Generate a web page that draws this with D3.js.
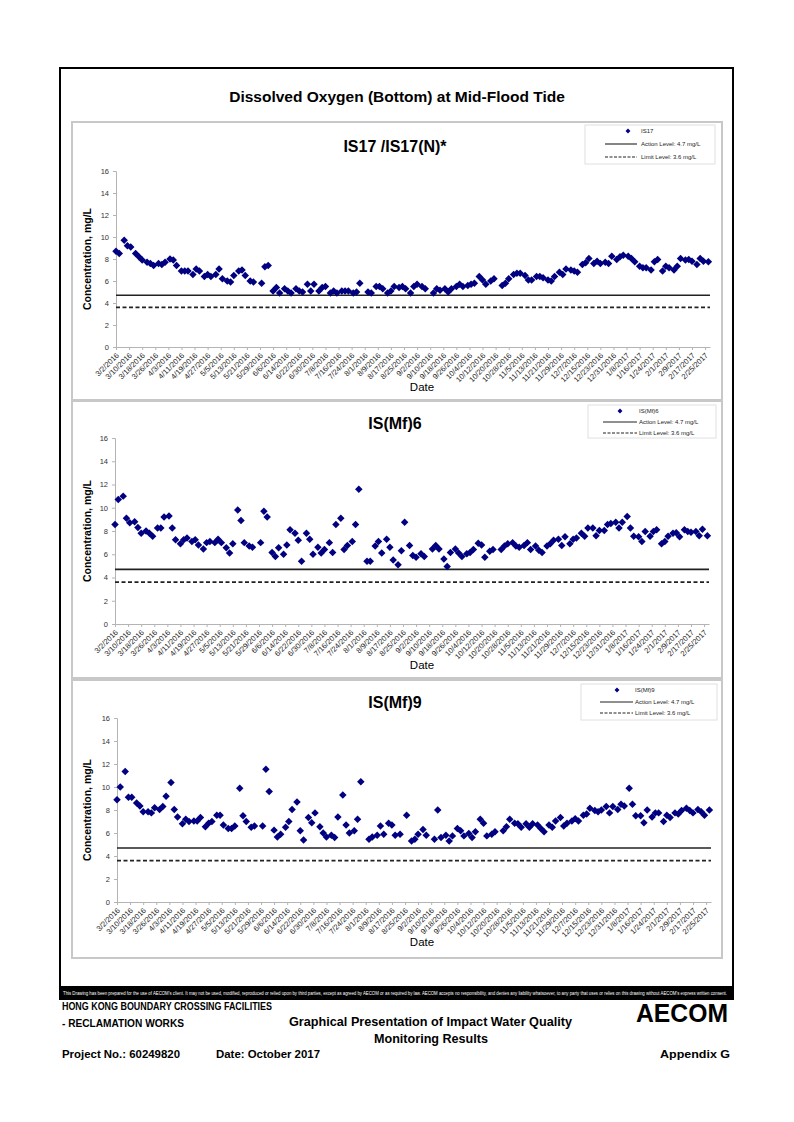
<!DOCTYPE html>
<html><head><meta charset="utf-8">
<script src="https://cdn.jsdelivr.net/npm/d3@7"></script>
<style>
body{margin:0;background:#fff;}
svg{display:block;font-family:"Liberation Sans",Arial,Helvetica,sans-serif;}
</style>
</head><body>
<svg id="chart" width="794" height="1122"></svg>
<script>
// ---------------- DATA ----------------
const sampleDates = [
"2016-03-02","2016-03-04","2016-03-07","2016-03-09","2016-03-11","2016-03-14","2016-03-16","2016-03-18","2016-03-21","2016-03-23","2016-03-25","2016-03-28","2016-03-30",
"2016-04-01","2016-04-04","2016-04-06","2016-04-08","2016-04-11","2016-04-13","2016-04-15","2016-04-18","2016-04-20","2016-04-22","2016-04-25","2016-04-27","2016-04-29",
"2016-05-02","2016-05-04","2016-05-06","2016-05-09","2016-05-11","2016-05-13","2016-05-16","2016-05-18","2016-05-20","2016-05-23","2016-05-25","2016-05-27","2016-05-30",
"2016-06-01","2016-06-03","2016-06-06","2016-06-08","2016-06-10","2016-06-13","2016-06-15","2016-06-17","2016-06-20","2016-06-22","2016-06-24","2016-06-27","2016-06-29",
"2016-07-01","2016-07-04","2016-07-06","2016-07-08","2016-07-11","2016-07-13","2016-07-15","2016-07-18","2016-07-20","2016-07-22","2016-07-25","2016-07-27","2016-07-29",
"2016-08-01","2016-08-03","2016-08-05","2016-08-08","2016-08-10","2016-08-12","2016-08-15","2016-08-17","2016-08-19","2016-08-22","2016-08-24","2016-08-26","2016-08-29","2016-08-31",
"2016-09-02","2016-09-05","2016-09-07","2016-09-09","2016-09-12","2016-09-14","2016-09-16","2016-09-19","2016-09-21","2016-09-23","2016-09-26","2016-09-28","2016-09-30",
"2016-10-03","2016-10-05","2016-10-07","2016-10-10","2016-10-12","2016-10-14","2016-10-17","2016-10-19","2016-10-21","2016-10-24","2016-10-26","2016-10-28","2016-10-31",
"2016-11-02","2016-11-04","2016-11-07","2016-11-09","2016-11-11","2016-11-14","2016-11-16","2016-11-18","2016-11-21","2016-11-23","2016-11-25","2016-11-28","2016-11-30",
"2016-12-02","2016-12-05","2016-12-07","2016-12-09","2016-12-12","2016-12-14","2016-12-16","2016-12-19","2016-12-21","2016-12-23","2016-12-26","2016-12-28","2016-12-30",
"2017-01-02","2017-01-04","2017-01-06","2017-01-09","2017-01-11","2017-01-13","2017-01-16","2017-01-18","2017-01-20","2017-01-23","2017-01-25","2017-01-27","2017-01-30",
"2017-02-01","2017-02-03","2017-02-06","2017-02-08","2017-02-10","2017-02-13","2017-02-15","2017-02-17","2017-02-20","2017-02-22","2017-02-24","2017-02-27"
];

const is17Values = [
8.7,8.5,9.7,9.2,9.1,8.5,8.2,7.9,7.7,7.6,7.4,7.6,7.5,
7.7,8.0,7.9,7.4,6.9,6.9,6.9,6.6,7.1,6.9,6.4,6.6,6.4,
6.6,7.1,6.2,6.0,5.9,6.5,6.9,7.0,6.5,6.0,5.9,null,5.8,
7.3,7.4,5.1,5.4,4.9,5.3,5.1,4.9,5.3,5.1,5.0,5.7,5.1,
5.7,5.1,5.4,5.5,4.9,5.1,4.9,5.1,5.1,5.1,4.9,5.0,5.8,
null,5.0,4.9,5.5,5.5,5.3,4.9,5.1,5.5,5.4,5.5,5.3,4.9,5.5,
5.7,5.5,5.3,null,4.9,5.3,5.15,5.3,5.0,5.3,5.5,5.7,5.5,
5.6,5.7,5.8,6.4,6.1,5.7,6.0,6.2,null,5.6,5.8,6.2,6.6,
6.7,6.7,6.5,6.1,6.1,6.4,6.4,6.3,6.1,6.0,6.4,6.8,6.6,
7.1,7.0,6.9,6.8,7.5,7.65,8.05,7.6,7.8,7.6,7.7,7.6,8.25,
7.95,8.2,8.35,8.25,8.05,7.75,7.35,7.2,7.2,7.0,7.75,7.95,6.9,
7.35,7.2,7.0,7.35,8.05,7.9,7.95,7.8,7.5,8.05,7.8,7.75
];

const mf6Values = [
8.55,10.7,11.0,9.1,8.7,8.8,8.3,7.8,8.0,7.8,7.55,8.25,8.25,
9.2,9.3,8.25,7.25,6.9,7.25,7.4,7.1,7.25,6.8,6.45,7.0,7.1,
7.0,7.3,7.0,6.55,6.1,6.9,9.8,8.9,7.0,6.7,6.6,null,7.0,
9.7,9.2,6.15,5.8,6.55,6.0,6.8,8.1,7.8,7.2,5.4,7.8,7.3,
6.0,6.6,6.1,6.4,7.0,6.15,8.55,9.1,6.4,6.75,7.1,8.55,11.6,
null,5.4,5.4,6.7,7.1,6.1,7.3,6.6,5.5,5.1,6.3,8.75,6.75,5.9,
5.75,6.05,5.8,null,6.45,6.75,6.45,5.6,4.95,6.15,6.45,6.1,5.8,
6.05,6.15,6.4,6.95,6.8,5.75,6.25,6.4,null,6.4,6.7,6.9,7.0,
6.7,6.6,6.75,7.0,6.4,6.7,6.35,6.15,6.7,6.9,7.2,7.3,6.75,
7.5,6.9,7.3,7.4,7.8,7.55,8.25,8.25,7.6,8.05,8.05,8.55,8.65,
8.75,8.25,8.75,9.25,8.25,7.55,7.5,7.1,7.95,7.55,7.95,8.1,6.9,
7.1,7.55,7.8,7.85,7.5,8.1,7.95,7.9,7.95,7.6,8.15,7.6
];

const mf9Values = [
8.9,10.0,11.35,9.1,9.1,8.6,8.35,7.85,7.85,7.75,8.2,8.05,8.3,
9.2,10.4,8.05,7.4,6.8,7.2,7.0,7.05,7.05,7.35,6.55,6.85,7.0,
7.55,7.55,6.7,6.4,6.4,6.6,9.9,7.5,7.0,6.5,6.6,null,6.6,
11.55,9.6,6.25,5.65,5.9,6.5,7.0,8.05,8.7,6.2,5.4,7.35,6.9,
7.75,6.55,6.0,5.65,5.8,5.6,7.4,9.3,6.7,6.0,6.2,7.2,10.45,
null,5.45,5.65,5.8,6.6,5.9,6.85,6.7,5.8,5.9,null,7.55,5.3,5.45,
5.9,6.3,5.8,null,5.45,8.0,5.6,5.8,5.3,5.75,6.4,6.2,5.75,
5.95,5.6,6.1,7.2,6.85,5.75,5.9,6.1,null,6.2,6.55,7.2,6.85,
6.8,6.5,6.8,6.5,6.8,6.7,6.4,6.1,6.7,6.5,7.05,7.35,6.6,
6.85,7.05,7.25,7.05,7.55,7.65,8.15,7.95,7.85,8.0,8.3,7.75,8.3,
8.05,8.5,8.35,9.9,8.5,7.5,7.5,6.9,8.0,7.4,7.75,7.75,7.0,
7.55,7.35,7.75,7.65,7.95,8.15,7.95,7.75,8.05,7.85,7.55,8.0
];

const seriesNames = ["IS17","IS(Mf)6","IS(Mf)9"];
const panelTitles = ["IS17 /IS17(N)*","IS(Mf)6","IS(Mf)9"];
const yTickValues = [0,2,4,6,8,10,12,14,16];
const actionLevel = 4.7;
const limitLevel = 3.6;
const axisStart = "2016-03-02";
const axisEnd = "2017-02-28";
const lastTick = "2017-02-26";

// ---------------- LAYOUT ----------------
const svg = d3.select("#chart");
const parse = d3.timeParse("%Y-%m-%d");
const fmt = d => `${d.getMonth()+1}/${d.getDate()}/${d.getFullYear()}`;
const navy = "#000080";
const diamond = d3.symbol().type(d3.symbolSquare).size(28);
const legendDiamond = d3.symbol().type(d3.symbolSquare).size(12);

// outer frame
svg.append("rect").attr("x",60).attr("y",68).attr("width",673).attr("height",931)
  .attr("fill","none").attr("stroke","#000").attr("stroke-width",2);

svg.append("text").attr("x",397).attr("y",102).attr("text-anchor","middle")
  .attr("font-weight","bold").attr("font-size",15.5).text("Dissolved Oxygen (Bottom) at Mid-Flood Tide");

const panels = [
  {top:122,bottom:400,x0:116,yTop:171,yBot:347,titleY:152,dateY:391,
   lg:{x:585,y:125,w:130,h:39,dx:628,lx1:605,lx2:637,tx:641,r1:131,r2:144,r3:157}},
  {top:401,bottom:678,x0:115,yTop:438,yBot:624,titleY:429,dateY:669,
   lg:{x:588,y:405,w:128,h:33,dx:620,lx1:603,lx2:637,tx:639,r1:411,r2:422,r3:433}},
  {top:680,bottom:958,x0:117,yTop:718,yBot:902,titleY:708,dateY:946,
   lg:{x:581,y:684,w:136,h:36,dx:617,lx1:600,lx2:633,tx:635,r1:690,r2:702,r3:713}}
];
const allSeries = [is17Values, mf6Values, mf9Values];

panels.forEach((p,i) => {
  const g = svg.append("g");
  g.append("rect").attr("x",72).attr("y",p.top).attr("width",650).attr("height",p.bottom-p.top)
    .attr("fill","#fff").attr("stroke","#c8c8c8").attr("stroke-width",2);

  const x = d3.scaleTime().domain([parse(axisStart), parse(axisEnd)]).range([p.x0, p.x0+594]);
  const y = d3.scaleLinear().domain([0,16]).range([p.yBot, p.yTop]);

  // title
  g.append("text").attr("x",395).attr("y",p.titleY).attr("text-anchor","middle")
    .attr("font-weight","bold").attr("font-size",16).text(panelTitles[i]);

  // y axis
  const ya = g.append("g").attr("transform",`translate(${p.x0},0)`)
    .call(d3.axisLeft(y).tickValues(yTickValues).tickSize(3).tickPadding(4));
  ya.select(".domain").attr("stroke","#b4b4b4");
  ya.selectAll(".tick line").attr("stroke","#b4b4b4");
  ya.selectAll("text").attr("font-size",7.5).attr("fill","#333").attr("font-family","Liberation Sans, Arial, sans-serif");

  // x axis
  const ticks = d3.timeDay.range(parse(axisStart), parse(lastTick), 8);
  const xa = g.append("g").attr("transform",`translate(0,${p.yBot})`)
    .call(d3.axisBottom(x).tickValues(ticks).tickFormat(fmt).tickSize(3).tickSizeOuter(0));
  xa.select(".domain").attr("stroke","#b4b4b4");
  xa.selectAll(".tick line").attr("stroke","#b4b4b4");
  xa.selectAll("text").attr("font-size",7.6).attr("fill","#222")
    .attr("font-family","Liberation Sans, Arial, sans-serif")
    .attr("text-anchor","end").attr("y",0).attr("dy","0.35em")
    .attr("transform","translate(1,7) rotate(-45)");

  // axis titles
  g.append("text").attr("transform",`translate(91,${(p.yTop+p.yBot)/2}) rotate(-90)`)
    .attr("text-anchor","middle").attr("font-weight","bold").attr("font-size",10.5)
    .text("Concentration, mg/L");
  g.append("text").attr("x",422).attr("y",p.dateY).attr("text-anchor","middle")
    .attr("font-size",11.5).text("Date");

  // level lines
  const [xs, xe] = x.range();
  g.append("line").attr("x1",xs).attr("x2",xe).attr("y1",y(actionLevel)).attr("y2",y(actionLevel))
    .attr("stroke","#222").attr("stroke-width",1.6);
  g.append("line").attr("x1",xs).attr("x2",xe).attr("y1",y(limitLevel)).attr("y2",y(limitLevel))
    .attr("stroke","#222").attr("stroke-width",1.6).attr("stroke-dasharray","4,2.5");

  // points
  const data = sampleDates.map((d,k) => ({date:parse(d), v:allSeries[i][k]})).filter(d => d.v != null);
  g.append("g").selectAll("path").data(data).join("path")
    .attr("d", diamond)
    .attr("transform", d => `translate(${x(d.date)},${y(d.v)}) rotate(45)`)
    .attr("fill", navy);

  // legend
  const L = p.lg;
  g.append("rect").attr("x",L.x).attr("y",L.y).attr("width",L.w).attr("height",L.h)
    .attr("fill","#fff").attr("stroke","#e0e0e0").attr("stroke-width",1);
  g.append("path").attr("d",legendDiamond).attr("transform",`translate(${L.dx},${L.r1}) rotate(45)`).attr("fill",navy);
  g.append("line").attr("x1",L.lx1).attr("x2",L.lx2).attr("y1",L.r2).attr("y2",L.r2).attr("stroke","#222").attr("stroke-width",1.1);
  g.append("line").attr("x1",L.lx1).attr("x2",L.lx2).attr("y1",L.r3).attr("y2",L.r3).attr("stroke","#222").attr("stroke-width",1.1).attr("stroke-dasharray","3,1.5");
  const legendTexts = [seriesNames[i], `Action Level: ${actionLevel} mg/L`, `Limit Level: ${limitLevel} mg/L`];
  [L.r1,L.r2,L.r3].forEach((ry,k) => {
    g.append("text").attr("x",L.tx).attr("y",ry).attr("dy","0.35em").attr("font-size",6)
      .attr("fill","#222").text(legendTexts[k]);
  });
});

// ---------------- FOOTER ----------------
svg.append("rect").attr("x",60).attr("y",986).attr("width",673).attr("height",13).attr("fill","#000");
svg.append("text").attr("x",63).attr("y",995).attr("font-size",4.6).attr("fill","#fff")
  .attr("textLength",664).attr("lengthAdjust","spacingAndGlyphs")
  .text("This Drawing has been prepared for the use of AECOM's client. It may not be used, modified, reproduced or relied upon by third parties, except as agreed by AECOM or as required by law. AECOM accepts no responsibility, and denies any liability whatsoever, to any party that uses or relies on this drawing without AECOM's express written consent.");

const foot = (txt, x, y, size, len, anchor) => {
  const t = svg.append("text").attr("x",x).attr("y",y).attr("font-size",size)
    .attr("font-weight","bold").attr("text-anchor",anchor||"start")
    .attr("font-family","Liberation Sans Narrow, Liberation Sans, Arial, sans-serif").text(txt);
  if (len) t.attr("textLength",len).attr("lengthAdjust","spacingAndGlyphs");
  return t;
};
foot("HONG KONG BOUNDARY CROSSING FACILITIES", 62, 1010, 11, 210);
foot("- RECLAMATION WORKS", 62, 1027, 11, 122);
foot("Graphical Presentation of Impact Water Quality", 289, 1026, 12.5, 283);
foot("Monitoring Results", 374, 1043, 12.5, 114);
foot("Project No.: 60249820", 62, 1058, 11.5, 118);
foot("Date: October 2017", 216, 1058, 11.5, 104);
foot("Appendix G", 660, 1058, 11.5, 70);
svg.append("text").attr("x",636).attr("y",1022).attr("font-size",26).attr("font-weight","900")
  .attr("textLength",92).attr("lengthAdjust","spacingAndGlyphs")
  .text("AECOM");
</script>
</body></html>
